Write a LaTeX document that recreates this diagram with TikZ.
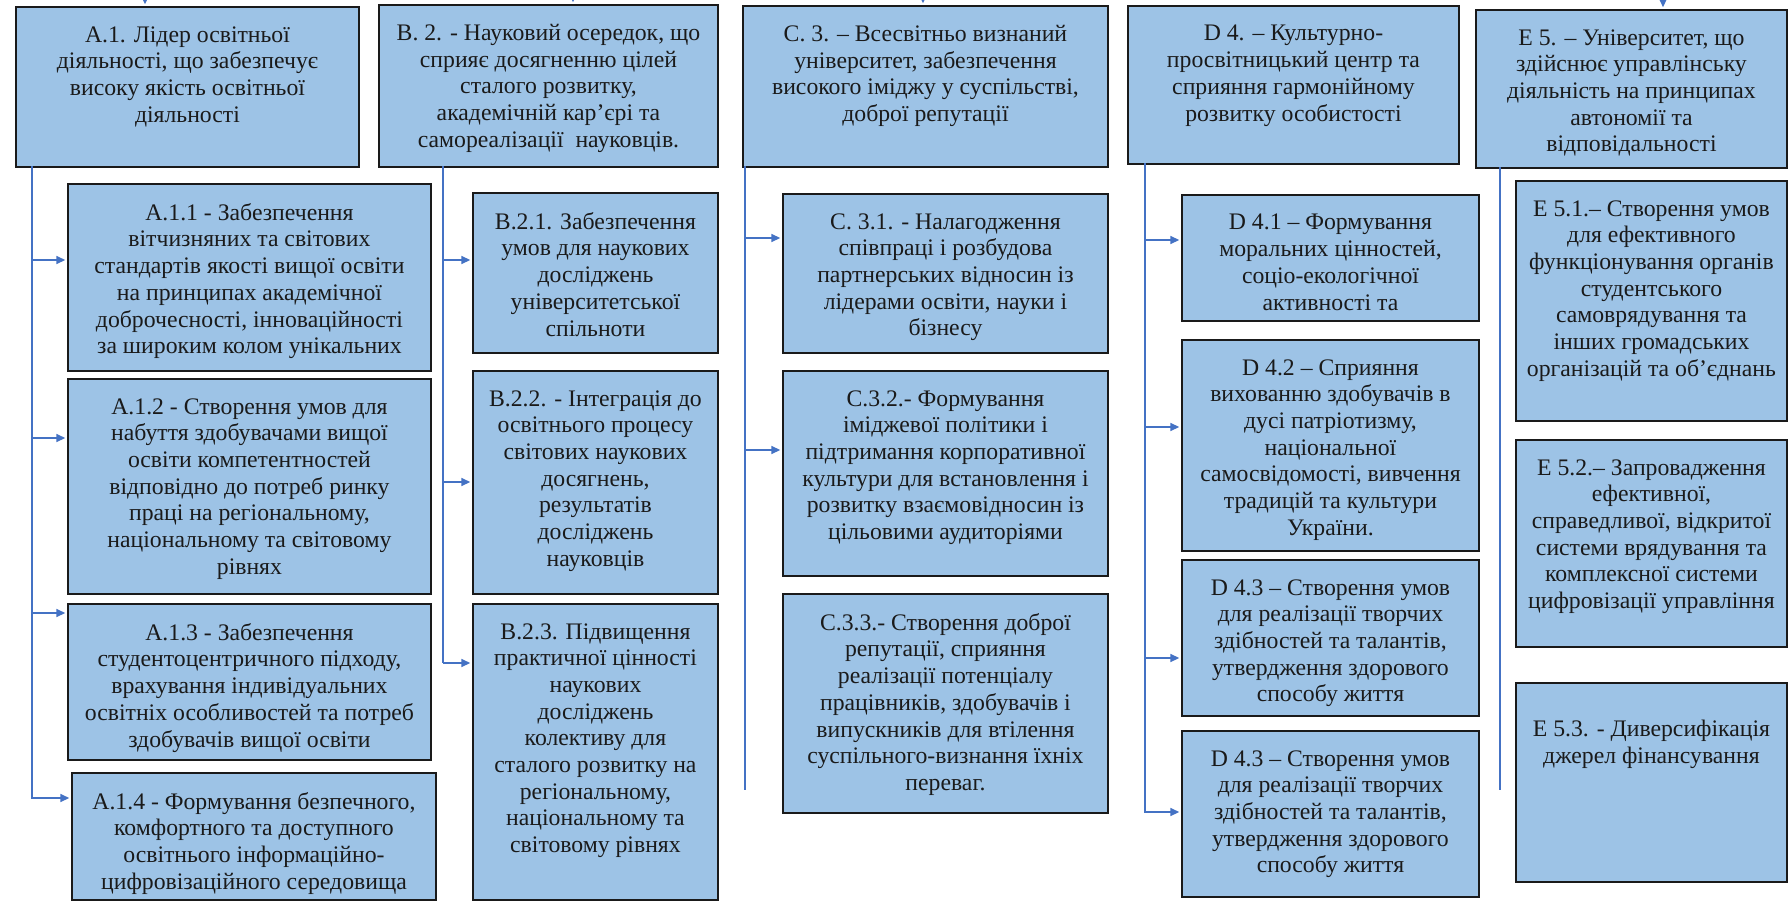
\documentclass[tikz,border=0pt]{standalone}
\usepackage{fontspec}
\setmainfont{Liberation Serif}
\newfontfamily\blkfont{Liberation Serif}
\usetikzlibrary{arrows.meta}

\definecolor{boxblue}{HTML}{9DC3E6}
\definecolor{lineblue}{HTML}{4472C4}
\definecolor{inkgray}{HTML}{1A1A1A}

\newlength\pxl \setlength\pxl{0.02cm}
% box: [extra top space]{name}{left}{top}{width}{height}{text}
\newcommand{\blk}[7][0pt]{%
  \node[blk] (#2) at (#3,#4)
    {\parbox[c][#6\pxl][t]{#5\pxl}{\centering\vspace*{\dimexpr 11pt+#1\relax}#7}};}

\begin{document}
\begin{tikzpicture}[x=0.02cm,y=-0.02cm,
    blk/.style={draw=inkgray,line width=1.1pt,fill=boxblue,inner sep=0pt,
      anchor=north west,font=\blkfont\fontsize{13.5}{15.2}\selectfont,text=inkgray},
    link/.style={lineblue,line width=0.9pt},
    arr/.style={link,-{Triangle[length=5pt,width=4.5pt]},shorten >=1pt}]

  \useasboundingbox (0,0) rectangle (1789,903);

  % column A
  \blk{A1}{15}{6}{343}{160}{А.1. Лідер освітньої\\ діяльності, що забезпечує\\ високу якість освітньої\\ діяльності}
  \blk{A11}{67}{183}{363}{187}{А.1.1 - Забезпечення\\ вітчизняних та світових\\ стандартів якості вищої освіти\\ на принципах академічної\\ доброчесності, інноваційності\\ за широким колом унікальних}
  \blk{A12}{67}{378}{363}{215}{А.1.2 - Створення умов для\\ набуття здобувачами вищої\\ освіти компетентностей\\ відповідно до потреб ринку\\ праці на регіональному,\\ національному та світовому\\ рівнях}
  \blk{A13}{67}{603}{363}{156}{А.1.3 - Забезпечення\\ студентоцентричного підходу,\\ врахування індивідуальних\\ освітніх особливостей та потреб\\ здобувачів вищої освіти}
  \blk{A14}{71}{772}{364}{127}{А.1.4 - Формування безпечного,\\ комфортного та доступного\\ освітнього інформаційно-\\ цифровізаційного середовища}

  % column B
  \blk{B2}{378}{4}{339}{162}{В. 2. - Науковий осередок, що\\ сприяє досягненню цілей\\ сталого розвитку,\\ академічній кар’єрі та\\ самореалізації\ \ науковців.}
  \blk{B21}{472}{192}{245}{160}{В.2.1. Забезпечення\\ умов для наукових\\ досліджень\\ університетської\\ спільноти}
  \blk{B22}{472}{370}{245}{223}{В.2.2. - Інтеграція до\\ освітнього процесу\\ світових наукових\\ досягнень,\\ результатів\\ досліджень\\ науковців}
  \blk{B23}{472}{603}{245}{296}{В.2.3. Підвищення\\ практичної цінності\\ наукових\\ досліджень\\ колективу для\\ сталого розвитку на\\ регіональному,\\ національному та\\ світовому рівнях}

  % column C
  \blk{C3}{742}{5}{365}{161}{С. 3. – Всесвітньо визнаний\\ університет, забезпечення\\ високого іміджу у суспільстві,\\ доброї репутації}
  \blk{C31}{782}{193}{325}{159}{С. 3.1. - Налагодження\\ співпраці і розбудова\\ партнерських відносин із\\ лідерами освіти, науки і\\ бізнесу}
  \blk{C32}{782}{370}{325}{205}{С.3.2.- Формування\\ іміджевої політики і\\ підтримання корпоративної\\ культури для встановлення і\\ розвитку взаємовідносин із\\ цільовими аудиторіями}
  \blk{C33}{782}{593}{325}{219}{С.3.3.- Створення доброї\\ репутації, сприяння\\ реалізації потенціалу\\ працівників, здобувачів і\\ випускників для втілення\\ суспільного-визнання їхніх\\ переваг.}

  % column D
  \blk{D4}{1127}{5}{331}{158}{D 4. – Культурно-\\ просвітницький центр та\\ сприяння гармонійному\\ розвитку особистості}
  \blk{D41}{1181}{194}{297}{126}{D 4.1 – Формування\\ моральних цінностей,\\ соціо-екологічної\\ активності та}
  \blk{D42}{1181}{339}{297}{211}{D 4.2 – Сприяння\\ вихованню здобувачів в\\ дусі патріотизму,\\ національної\\ самосвідомості, вивчення\\ традицій та культури\\ України.}
  \blk{D43}{1181}{559}{297}{156}{D 4.3 – Створення умов\\ для реалізації творчих\\ здібностей та талантів,\\ утвердження здорового\\ способу життя}
  \blk{D44}{1181}{730}{297}{166}{D 4.3 – Створення умов\\ для реалізації творчих\\ здібностей та талантів,\\ утвердження здорового\\ способу життя}

  % column E
  \blk{E5}{1475}{9}{311}{158}{Е 5. – Університет, що\\ здійснює управлінську\\ діяльність на принципах\\ автономії та\\ відповідальності}
  \blk{E51}{1515}{180}{271}{240}{Е 5.1.– Створення умов\\ для ефективного\\ функціонування органів\\ студентського\\ самоврядування та\\ інших громадських\\ організацій та об’єднань}
  \blk{E52}{1515}{439}{271}{207}{Е 5.2.– Запровадження\\ ефективної,\\ справедливої, відкритої\\ системи врядування та\\ комплексної системи\\ цифровізації управління}
  \blk[10pt]{E53}{1515}{682}{271}{199}{Е 5.3. - Диверсифікація\\ джерел фінансування}

  % arrows coming in from above
  \coordinate (inA) at (145,0);
  \coordinate (inB) at (573,0);
  \coordinate (inC) at (923,0);
  \coordinate (inE) at (1663,0);
  \draw[arr] (inA) -- (inA |- A1.north);
  \draw[arr] (inB) -- (inB |- B2.north);
  \draw[arr] (inC) -- (inC |- C3.north);
  \draw[arr] (inE) -- (inE |- E5.north);

  % trunks
  \coordinate (ta) at (32,166);
  \coordinate (tb) at (443,166);
  \coordinate (tc) at (745,166);
  \coordinate (td) at (1145,163);
  \coordinate (te) at (1500,167);

  \draw[arr] (ta) -- (ta |- 0,798) -- (A14.west |- 0,798);
  \foreach \nm/\yy in {A11/260,A12/438,A13/613}
    \draw[arr] (ta |- 0,\yy) -- (\nm.west |- 0,\yy);

  \draw[link] (tb) -- (tb |- 0,663);
  \foreach \nm/\yy in {B21/260,B22/482,B23/663}
    \draw[arr] (tb |- 0,\yy) -- (\nm.west |- 0,\yy);

  \draw[link] (tc) -- (tc |- 0,790);
  \foreach \nm/\yy in {C31/238,C32/450}
    \draw[arr] (tc |- 0,\yy) -- (\nm.west |- 0,\yy);

  \draw[arr] (td) -- (td |- 0,812) -- (D44.west |- 0,812);
  \foreach \nm/\yy in {D41/240,D42/427,D43/658}
    \draw[arr] (td |- 0,\yy) -- (\nm.west |- 0,\yy);

  \draw[link] (te) -- (te |- 0,790);
\end{tikzpicture}
\end{document}
